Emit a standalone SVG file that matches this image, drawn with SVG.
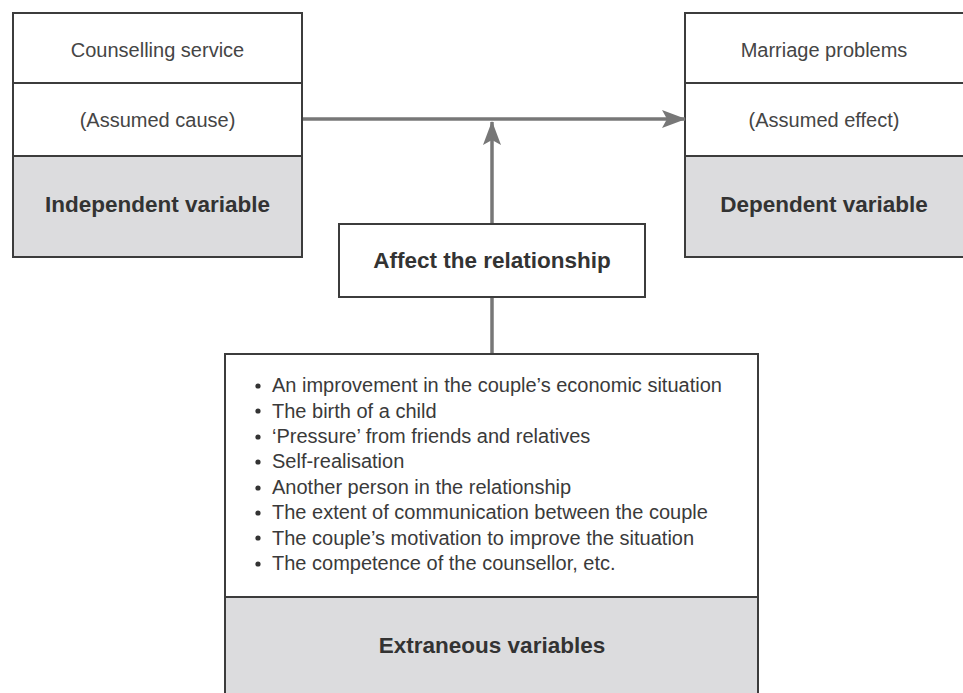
<svg xmlns="http://www.w3.org/2000/svg" width="963" height="693" viewBox="0 0 963 693">
<defs>
<style>
.box{fill:#ffffff;stroke:#3c3c3c;stroke-width:2}
.shade{fill:#dcdcde;stroke:#3c3c3c;stroke-width:2}
.t{font-family:"Liberation Sans",Arial,sans-serif;font-size:20px;fill:#454545;text-anchor:middle}
.b{font-family:"Liberation Sans",Arial,sans-serif;font-size:22.5px;font-weight:bold;fill:#333333;text-anchor:middle}
.li{font-family:"Liberation Sans",Arial,sans-serif;font-size:20px;fill:#3a3a3a}
.conn{stroke:#777777;stroke-width:3.5;fill:none}
</style>
<marker id="ah" viewBox="0 0 24 18" refX="23" refY="9" markerWidth="24" markerHeight="18" markerUnits="userSpaceOnUse" orient="auto">
<path d="M0,0 L24,9 L0,18 L5,9 Z" fill="#777777"/>
</marker>
</defs>
<rect width="963" height="693" fill="#ffffff"/>
<g id="independent">
<rect class="box" x="13" y="13" width="289" height="70"/>
<rect class="box" x="13" y="83" width="289" height="73"/>
<rect class="shade" x="13" y="156" width="289" height="101"/>
<text class="t" x="157.5" y="57">Counselling service</text>
<text class="t" x="157.5" y="127">(Assumed cause)</text>
<text class="b" x="157.5" y="212">Independent variable</text>
</g>
<g id="dependent">
<rect class="box" x="685" y="13" width="290" height="70"/>
<rect class="box" x="685" y="83" width="290" height="73"/>
<rect class="shade" x="685" y="156" width="290" height="101"/>
<text class="t" x="824" y="57">Marriage problems</text>
<text class="t" x="824" y="127">(Assumed effect)</text>
<text class="b" x="824" y="212">Dependent variable</text>
</g>
<g id="affect">
<rect class="box" x="339" y="224" width="306" height="73"/>
<text class="b" x="492" y="268">Affect the relationship</text>
</g>
<g id="extraneous">
<rect class="box" x="225" y="354" width="533" height="243"/>
<rect class="shade" x="225" y="597" width="533" height="110"/>
<g fill="#333333">
<circle cx="258" cy="386" r="2.6"/>
<circle cx="258" cy="411" r="2.6"/>
<circle cx="258" cy="437" r="2.6"/>
<circle cx="258" cy="462" r="2.6"/>
<circle cx="258" cy="488" r="2.6"/>
<circle cx="258" cy="513" r="2.6"/>
<circle cx="258" cy="538" r="2.6"/>
<circle cx="258" cy="564" r="2.6"/>
</g>
<text class="li" x="272" y="392">An improvement in the couple’s economic situation</text>
<text class="li" x="272" y="417.5">The birth of a child</text>
<text class="li" x="272" y="443">‘Pressure’ from friends and relatives</text>
<text class="li" x="272" y="468">Self-realisation</text>
<text class="li" x="272" y="494">Another person in the relationship</text>
<text class="li" x="272" y="519">The extent of communication between the couple</text>
<text class="li" x="272" y="544.5">The couple’s motivation to improve the situation</text>
<text class="li" x="272" y="570">The competence of the counsellor, etc.</text>
<text class="b" x="492" y="653">Extraneous variables</text>
</g>
<g id="connectors">
<line class="conn" x1="303" y1="119" x2="685" y2="119" marker-end="url(#ah)"/>
<line class="conn" x1="492" y1="223" x2="492" y2="122" marker-end="url(#ah)"/>
<line class="conn" x1="492" y1="298" x2="492" y2="353"/>
</g>
</svg>
